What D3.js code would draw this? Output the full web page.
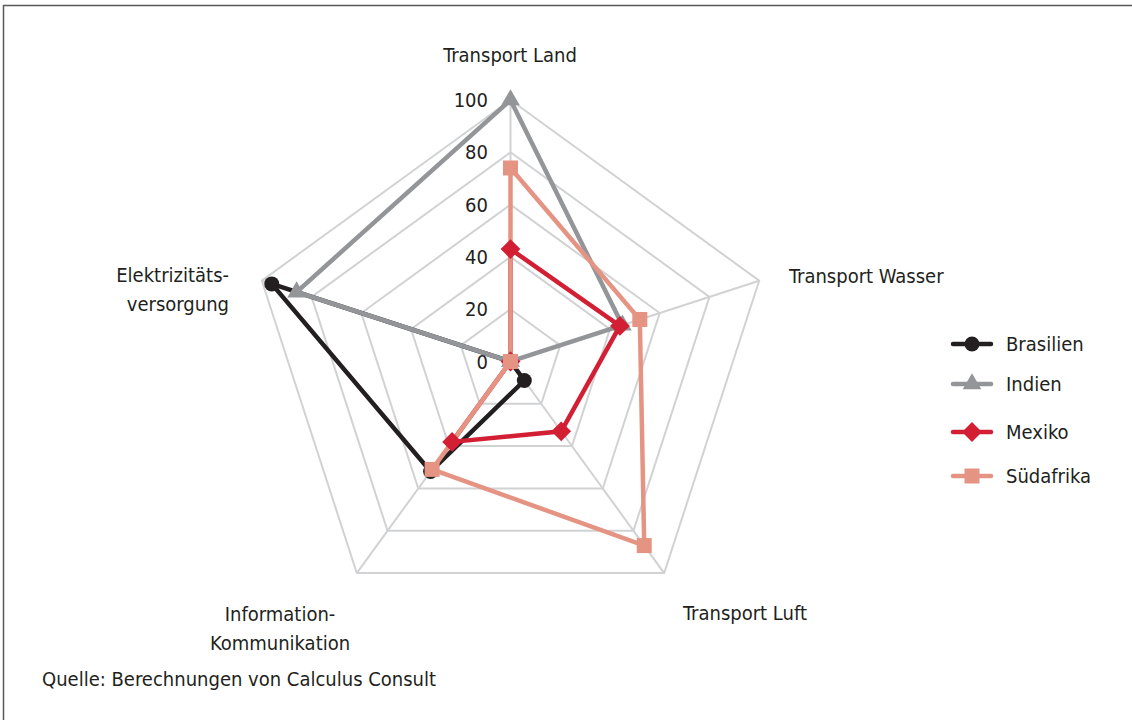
<!DOCTYPE html>
<html><head><meta charset="utf-8">
<script src="https://cdn.jsdelivr.net/npm/d3@7"></script>
<style>
html,body{margin:0;padding:0;background:#fff;}
svg text{font-family:"DejaVu Sans Condensed","DejaVu Sans",sans-serif;fill:#231f20;}
</style></head>
<body>
<svg id="c" width="1132" height="720"></svg>
<script>
const categories = ["Transport Land", "Transport Wasser", "Transport Luft", "Information-Kommunikation", "Elektrizitätsversorgung"];
const categoryLabels = [["Transport Land"], ["Transport Wasser"], ["Transport Luft"], ["Information-", "Kommunikation"], ["Elektrizitäts-", "versorgung"]];
const seriesNames = ["Brasilien", "Indien", "Mexiko", "Südafrika"];
const brasilien = [0, 0, 9, 52, 96];
const indien = [100, 45, 0, 0, 86];
const mexiko = [43, 44, 33, 38, 0];
const suedafrika = [74, 52, 87, 51, 0];
const tickValues = [0, 20, 40, 60, 80, 100];
const sourceText = "Quelle: Berechnungen von Calculus Consult";

const seriesValues = [brasilien, indien, mexiko, suedafrika];
const colors = ["#231f20", "#939598", "#d21f33", "#e59483"];
const symbols = ["circle", "triangle", "diamond", "square"];

const svg = d3.select("#c");
const cx = 510.5, cy = 361.5, R = 261.5;
const r = d3.scaleLinear().domain([0, 100]).range([0, R]);
const ang = d3.scaleLinear().domain([0, categories.length]).range([0, 2 * Math.PI]);
const pt = (i, v) => [cx + r(v) * Math.sin(ang(i)), cy - r(v) * Math.cos(ang(i))];

function marker(sel, type, x, y, color) {
  const gm = sel.append("g").attr("transform", `translate(${x},${y})`);
  if (type === "circle") gm.append("circle").attr("r", 7.5).attr("fill", color);
  else if (type === "triangle") gm.append("path").attr("d", d3.symbol().type(d3.symbolTriangle).size(150)()).attr("fill", color);
  else if (type === "diamond") gm.append("rect").attr("x", -7).attr("y", -7).attr("width", 14).attr("height", 14).attr("transform", "rotate(45)").attr("fill", color);
  else gm.append("rect").attr("x", -7.5).attr("y", -7.5).attr("width", 15).attr("height", 15).attr("fill", color);
}

// frame
svg.append("line").attr("x1", 3.5).attr("x2", 1132).attr("y1", 5.5).attr("y2", 5.5).attr("stroke", "#58595b").attr("stroke-width", 1.5);
svg.append("line").attr("x1", 3.5).attr("x2", 3.5).attr("y1", 5).attr("y2", 720).attr("stroke", "#58595b").attr("stroke-width", 1.5);

// grid
const g = svg.append("g");
tickValues.filter(t => t > 0).forEach(t => {
  g.append("polygon")
    .attr("points", categories.map((c, i) => pt(i, t).join(",")).join(" "))
    .attr("fill", "none").attr("stroke", "#d1d2d4").attr("stroke-width", 2);
});
categories.forEach((c, i) => {
  const [x, y] = pt(i, 100);
  g.append("line").attr("x1", cx).attr("y1", cy).attr("x2", x).attr("y2", y)
    .attr("stroke", "#d1d2d4").attr("stroke-width", 2);
});

// series
const line = d3.line().curve(d3.curveLinearClosed);
seriesValues.forEach((vals, s) => {
  const pts = vals.map((v, i) => pt(i, v));
  svg.append("path").attr("d", line(pts)).attr("fill", "none")
    .attr("stroke", colors[s]).attr("stroke-width", 4.5).attr("stroke-linejoin", "miter");
});
seriesValues.forEach((vals, s) => {
  vals.forEach((v, i) => {
    const [x, y] = pt(i, v);
    marker(svg, symbols[s], x, y, colors[s]);
  });
});

// tick labels
tickValues.forEach(t => {
  svg.append("text").attr("x", 488).attr("y", cy - r(t)).attr("dy", "0.35em")
    .attr("text-anchor", "end").attr("font-size", 20).text(t);
});

// category labels
const labelPos = [
  {x: 510, y: 55, anchor: "middle"},
  {x: 789, y: 276, anchor: "start"},
  {x: 745, y: 613, anchor: "middle"},
  {x: 280, y: 614, anchor: "middle"},
  {x: 229, y: 275, anchor: "end"}
];
categoryLabels.forEach((lines, i) => {
  const p = labelPos[i];
  lines.forEach((l, k) => {
    svg.append("text").attr("x", p.x).attr("y", p.y + k * 29).attr("dy", "0.35em")
      .attr("text-anchor", p.anchor).attr("font-size", 20).text(l);
  });
});

// legend
const legY = [344, 384, 432, 476];
seriesNames.forEach((n, s) => {
  const y = legY[s];
  svg.append("line").attr("x1", 953).attr("x2", 991).attr("y1", y).attr("y2", y)
    .attr("stroke", colors[s]).attr("stroke-width", 4.5).attr("stroke-linecap", "round");
  marker(svg, symbols[s], 972, y, colors[s]);
  svg.append("text").attr("x", 1006).attr("y", y).attr("dy", "0.35em")
    .attr("font-size", 20).text(n);
});

svg.append("text").attr("x", 42).attr("y", 679).attr("dy", "0.35em")
  .attr("font-size", 20).text(sourceText);
</script>
</body></html>
